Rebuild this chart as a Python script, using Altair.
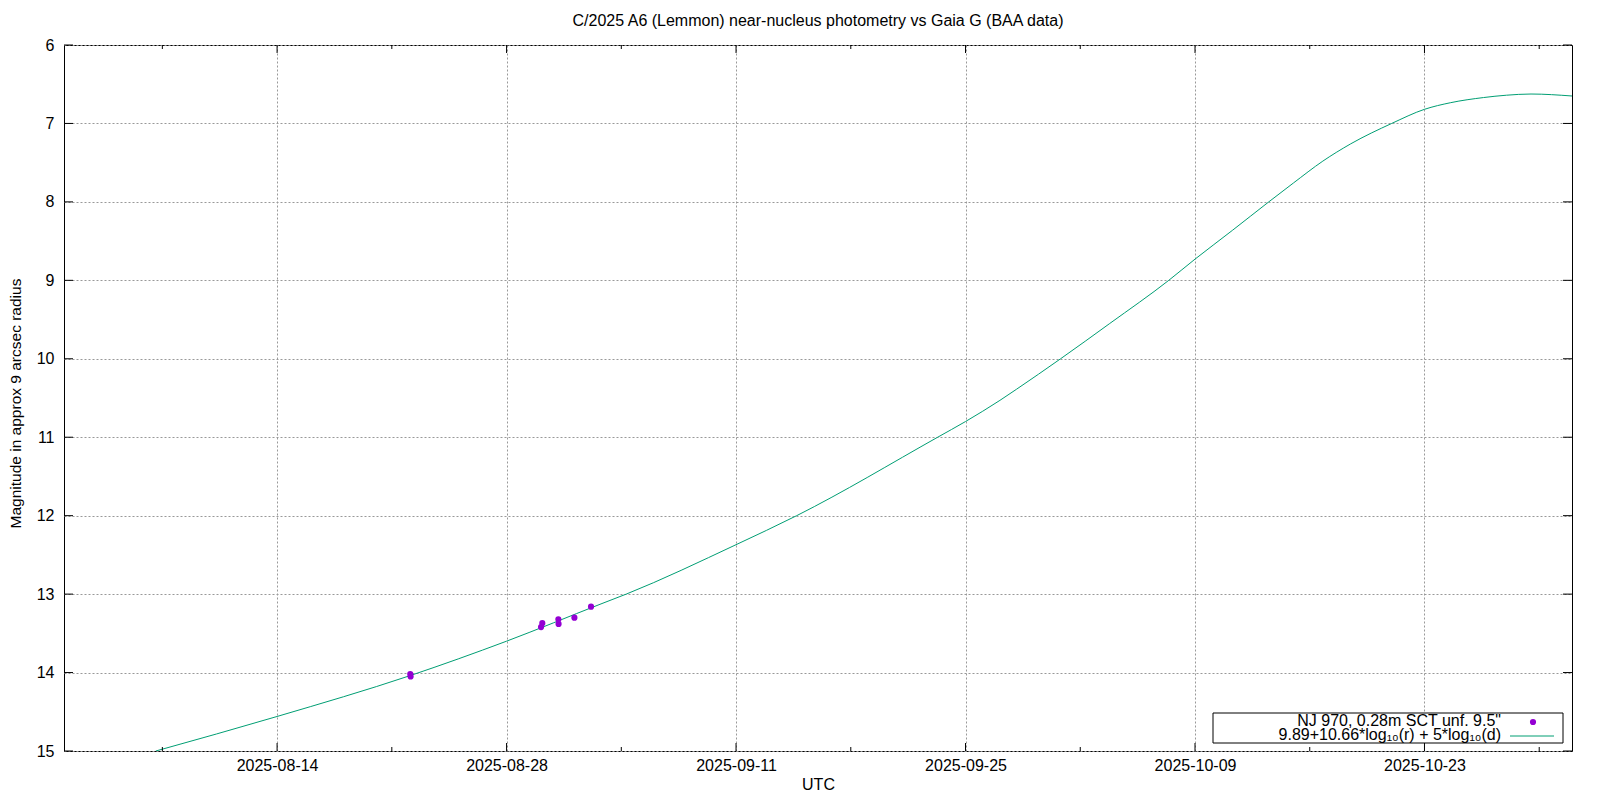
import altair as alt
import pandas as pd

# ---- data ----
curve_dates = [
    "2025-08-06T14:24:00Z", "2025-08-14T00:00:00Z", "2025-08-22T02:24:00Z",
    "2025-08-28T00:00:00Z", "2025-09-02T16:48:00Z", "2025-09-04T07:12:00Z",
    "2025-09-11T00:00:00Z", "2025-09-14T16:48:00Z", "2025-09-23T07:12:00Z",
    "2025-09-25T00:00:00Z", "2025-09-27T02:24:00Z", "2025-09-28T02:24:00Z",
    "2025-09-30T19:12:00Z", "2025-10-03T19:12:00Z", "2025-10-07T09:36:00Z",
    "2025-10-09T00:00:00Z", "2025-10-11T07:12:00Z", "2025-10-12T09:36:00Z",
    "2025-10-13T12:00:00Z", "2025-10-15T00:00:00Z", "2025-10-16T19:12:00Z",
    "2025-10-18T12:00:00Z", "2025-10-21T00:00:00Z", "2025-10-23T00:00:00Z",
    "2025-10-24T14:24:00Z", "2025-10-26T14:24:00Z", "2025-10-28T00:00:00Z",
    "2025-10-29T12:00:00Z", "2025-11-01T00:00:00Z",
]
curve_mags = [
    15.00, 14.56, 14.04,
    13.60, 13.13, 13.00,
    12.37, 12.00, 11.00,
    10.80, 10.53, 10.39,
    10.00, 9.55, 9.00,
    8.73, 8.36, 8.18,
    8.00, 7.76, 7.48,
    7.26, 7.00, 6.82,
    6.735, 6.67, 6.64,
    6.625, 6.65,
]

obs_dates = [
    "2025-08-22T03:00:00Z", "2025-08-22T03:30:00Z",
    "2025-08-30T04:20:00Z", "2025-08-30T02:30:00Z",
    "2025-08-31T03:50:00Z", "2025-08-31T04:10:00Z",
    "2025-09-01T03:20:00Z", "2025-09-02T03:40:00Z",
]
obs_mags = [14.02, 14.05, 13.37, 13.42, 13.32, 13.38, 13.30, 13.16]

major_ticks = ["2025-08-14", "2025-08-28", "2025-09-11", "2025-09-25", "2025-10-09", "2025-10-23"]
minor_ticks = ["2025-08-07", "2025-08-21", "2025-09-04", "2025-09-18", "2025-10-02", "2025-10-16", "2025-10-30"]
y_ticks = [6, 7, 8, 9, 10, 11, 12, 13, 14, 15]

title_text = "C/2025 A6 (Lemmon) near-nucleus photometry vs Gaia G (BAA data)"
x_title = "UTC"
y_title = "Magnitude in approx 9 arcsec radius"
legend_obs = "NJ 970, 0.28m SCT unf. 9.5\""
legend_fit = "9.89+10.66*log\u2081\u2080(r) + 5*log\u2081\u2080(d)"

FONT = "Liberation Sans"
W, H = 1508, 706
PURPLE = "#9400D3"
GREEN = "#009E73"

curve_df = pd.DataFrame({"date": curve_dates, "mag": curve_mags})
obs_df = pd.DataFrame({"date": obs_dates, "mag": obs_mags})
major_df = pd.DataFrame({"date": [d + "T00:00:00Z" for d in major_ticks]})
minor_df = pd.DataFrame({"date": [d + "T00:00:00Z" for d in minor_ticks]})
ytick_df = pd.DataFrame({"mag": y_ticks})

def dt(s):
    y, m, d = (int(p) for p in s.split("-"))
    return alt.DateTime(year=y, month=m, date=d, utc=True)

xscale = alt.Scale(type="utc", domain=[dt("2025-08-01"), dt("2025-11-01")], nice=False)
yscale = alt.Scale(domain=[6, 15], reverse=True, nice=False, zero=False)

xaxis = alt.Axis(
    values=[dt(d) for d in major_ticks], labelExpr="utcFormat(datum.value, '%Y-%m-%d')",
    ticks=False, domain=False, labelPadding=6, labelFontSize=16, labelFont=FONT,
    labelColor="black", grid=True, gridDash=[2, 2], gridColor="#999999",
    gridWidth=1, gridOpacity=1, title=x_title, titleFont=FONT, titleFontSize=16,
    titleFontWeight="normal", titleColor="black", titleY=41, titleBaseline="bottom",
    labelFlush=False, labelOverlap=False,
)
yaxis = alt.Axis(
    values=y_ticks, ticks=False, domain=False, labelPadding=10, labelFontSize=16,
    labelFont=FONT, labelColor="black", grid=True, gridDash=[2, 2],
    gridColor="#999999", gridWidth=1, gridOpacity=1, title=y_title,
    titleFont=FONT, titleFontSize=15.5, titleFontWeight="normal", titleColor="black",
    titleX=-49, titleY=358, titleAngle=270, titleAlign="center", titleBaseline="middle",
    labelFlush=False, labelOverlap=False,
)

xenc = alt.X("date:T", scale=xscale, axis=xaxis)
yenc = alt.Y("mag:Q", scale=yscale, axis=yaxis)

line = alt.Chart(curve_df).mark_line(color=GREEN, strokeWidth=1, interpolate="monotone", clip=True).encode(
    x=xenc, y=yenc
)
points = alt.Chart(obs_df).mark_circle(color=PURPLE, size=38, opacity=1).encode(x=xenc, y=yenc)

major_bot = alt.Chart(major_df).mark_rule(color="black", strokeWidth=1).encode(
    x=xenc, y=alt.value(H), y2=alt.value(H - 8))
major_top = alt.Chart(major_df).mark_rule(color="black", strokeWidth=1).encode(
    x=xenc, y=alt.value(0), y2=alt.value(8))
minor_bot = alt.Chart(minor_df).mark_rule(color="black", strokeWidth=1).encode(
    x=xenc, y=alt.value(H), y2=alt.value(H - 4))
minor_top = alt.Chart(minor_df).mark_rule(color="black", strokeWidth=1).encode(
    x=xenc, y=alt.value(0), y2=alt.value(4))
y_left = alt.Chart(ytick_df).mark_rule(color="black", strokeWidth=1).encode(
    y=yenc, x=alt.value(0), x2=alt.value(9))
y_right = alt.Chart(ytick_df).mark_rule(color="black", strokeWidth=1).encode(
    y=yenc, x=alt.value(W), x2=alt.value(W - 9))

one = pd.DataFrame({"k": [0]})
leg_box = alt.Chart(one).mark_rect(fill="white", stroke="black", strokeWidth=1).encode(
    x=alt.value(1149), x2=alt.value(1499), y=alt.value(668), y2=alt.value(698))
leg_t1 = alt.Chart(pd.DataFrame({"t": [legend_obs]})).mark_text(
    align="right", baseline="alphabetic", font=FONT, fontSize=16, color="black"
).encode(text="t:N", x=alt.value(1437), y=alt.value(681))
leg_t2 = alt.Chart(pd.DataFrame({"t": [legend_fit]})).mark_text(
    align="right", baseline="alphabetic", font=FONT, fontSize=16, color="black"
).encode(text="t:N", x=alt.value(1437), y=alt.value(695))
leg_pt = alt.Chart(one).mark_circle(color=PURPLE, size=38, opacity=1).encode(
    x=alt.value(1469), y=alt.value(677))
leg_ln = alt.Chart(one).mark_rule(color=GREEN, strokeWidth=1).encode(
    x=alt.value(1446), x2=alt.value(1490), y=alt.value(691))

chart = alt.layer(
    line, points, major_bot, major_top, minor_bot, minor_top, y_left, y_right,
    leg_box, leg_t1, leg_t2, leg_pt, leg_ln,
).properties(
    width=W, height=H,
    title=alt.TitleParams(title_text, font=FONT, fontSize=16, fontWeight="normal",
                          color="black", anchor="middle", frame="group", offset=8),
    autosize=alt.AutoSizeParams(type="none"),
    padding={"left": 56, "top": 37, "right": 20, "bottom": 41},
    background="white",
).configure_view(stroke="black", strokeWidth=1)

chart.save("out.html", embed_options={"renderer": "svg", "actions": False})
